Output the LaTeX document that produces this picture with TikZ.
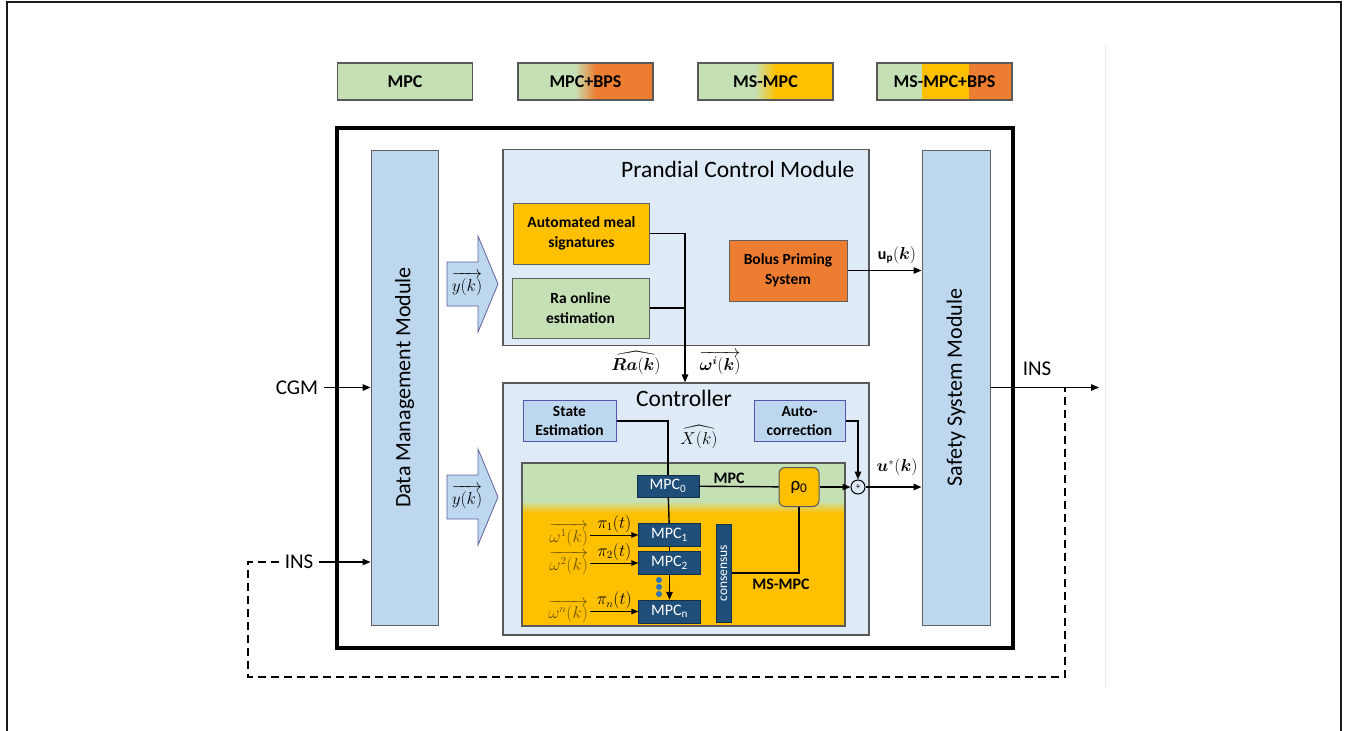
\documentclass[tikz,border=0pt]{standalone}
\usepackage{amsmath,amssymb,bm}
\usepackage{fontspec}
\setmainfont{Carlito}
\usepackage{tikz}
\usetikzlibrary{positioning,arrows.meta,calc}

\definecolor{modblue}{HTML}{BDD7EE}
\definecolor{panelblue}{HTML}{DEEBF7}
\definecolor{mpcgreen}{HTML}{C5E0B4}
\definecolor{msyellow}{HTML}{FFC000}
\definecolor{bpsorange}{HTML}{ED7D31}
\definecolor{navy}{HTML}{1F4E79}
\definecolor{edgegray}{HTML}{595959}
\definecolor{omegabrown}{HTML}{6E5200}
\definecolor{dotblue}{HTML}{2E75B6}

\begin{document}
\begin{tikzpicture}[x=1pt, y=-1pt,
  module/.style={draw=gray!75!black, fill=modblue, line width=1pt, inner sep=0pt,
                 font=\fontsize{22}{26}\selectfont},
  panel/.style={draw=edgegray, fill=panelblue, line width=1.2pt, inner sep=0pt},
  title/.style={font=\fontsize{23.5}{28}\selectfont},
  box/.style={draw=gray!75!black, line width=1pt, align=center, inner sep=0pt,
              font=\bfseries\fontsize{15.5}{19.5}\selectfont},
  lightbox/.style={box, draw=blue!35!gray, fill=modblue, minimum height=41pt},
  legend/.style={draw=edgegray, line width=1.2pt, minimum width=135pt,
                 minimum height=37pt, font=\bfseries\fontsize{18}{20}\selectfont},
  mpcbox/.style={draw=navy!60!black, fill=navy, text=white, minimum width=62pt,
                 inner sep=0pt, font=\fontsize{16}{18}\selectfont},
  blockarr/.style={draw=blue!25!gray, fill=modblue, line width=0.8pt},
  arr/.style={-{Stealth[length=8pt, width=6.5pt, inset=0pt]}, line width=1.4pt},
  thinarr/.style={-{Stealth[length=7pt, width=5.5pt, inset=0pt]}, line width=1pt},
  wire/.style={line width=1.4pt},
  port/.style={font=\fontsize{21}{24}\selectfont, inner sep=6pt},
  sig/.style={font=\fontsize{16}{18}\selectfont, inner sep=0pt},
  tag/.style={font=\bfseries\fontsize{16}{18}\selectfont}
]
  \useasboundingbox (0,0) rectangle (1345,731);

  % page frame
  \draw[line width=2pt, gray!20!black] (7,731) -- (7,2) -- (1341,2) -- (1341,731);
  \draw[gray!15] (1105,43) -- (1105,688);

  % Legend: colour key of the four schemes
  \fill[mpcgreen] (338,63) rectangle (472,100);
  \fill[mpcgreen] (518,63) rectangle (575,100);
  \shade[left color=mpcgreen, right color=bpsorange] (575,63) rectangle (596,100);
  \fill[bpsorange] (596,63) rectangle (653,100);
  \fill[mpcgreen] (698,63) rectangle (755,100);
  \shade[left color=mpcgreen, right color=msyellow] (755,63) rectangle (776,100);
  \fill[msyellow] (776,63) rectangle (833,100);
  \fill[mpcgreen] (877,63) rectangle (922,100);
  \fill[msyellow] (922,63) rectangle (969,100);
  \fill[bpsorange] (969,63) rectangle (1012,100);
  \node[legend] (lgMpc) at (405,81.5) {MPC};
  \node[legend] (lgBps) at (585.5,81.5) {MPC+BPS};
  \node[legend] (lgMs) at (765.5,81.5) {MS-MPC};
  \node[legend] (lgMsBps) at (944.5,81.5) {MS-MPC+BPS};

  % Outer system boundary
  \draw[line width=3.5pt] (337,128) rectangle (1013,648);

  % Side modules
  \node[module, minimum width=67pt, minimum height=475pt] (dmm) at (404.5,387.5)
    {\rotatebox{90}{Data Management Module}};
  \node[module, minimum width=68pt, minimum height=475pt] (ssm) at (956,387.5)
    {\rotatebox{90}{Safety System Module}};

  % Prandial control module
  \node[panel, minimum width=366pt, minimum height=196pt] (pcm) at (686,247.5) {};
  \node[title, anchor=east] (pcmTitle) at (858,169) {Prandial Control Module};
  \node[box, fill=msyellow, minimum width=136pt, minimum height=61pt] (ams) at (581.5,233.5)
    {Automated meal\\signatures};
  \node[box, fill=mpcgreen, minimum width=137pt, minimum height=60pt] (ra) at (580.5,308)
    {Ra online\\estimation};
  \node[box, fill=bpsorange, minimum width=118pt, minimum height=61pt] (bps) at (788,270.5)
    {Bolus Priming\\System};

  % Controller
  \node[panel, minimum width=366pt, minimum height=252pt] (ctrl) at (686,509) {};
  \node[title] (ctrlTitle) at (684,398) {Controller};
  \node[lightbox, minimum width=93pt] (se) at (569.5,421) {State\\Estimation};
  \node[lightbox, minimum width=91pt] (auto) at (799.5,421) {Auto-\\correction};

  % MPC / MS-MPC core, green on top fading into yellow
  \fill[mpcgreen] (522,463) rectangle (845,501);
  \shade[top color=mpcgreen, bottom color=msyellow] (522,501) rectangle (845,513);
  \fill[msyellow] (522,513) rectangle (845,626);
  \node[draw=edgegray, line width=1.2pt, minimum width=323pt, minimum height=163pt,
        inner sep=0pt] (core) at (683.5,544.5) {};

  \node[mpcbox, minimum height=22pt] (mpc0) at (668,486) {MPC\textsubscript{0}};
  \node[mpcbox, minimum height=23pt] (mpc1) at (669.5,535) {MPC\textsubscript{1}};
  \node[mpcbox, minimum height=23pt] (mpc2) at (669.5,563) {MPC\textsubscript{2}};
  \node[mpcbox, minimum height=23pt] (mpcn) at (669.5,611.5) {MPC\textsubscript{n}};
  \node[mpcbox, minimum width=15pt, minimum height=98pt, font=\fontsize{13.5}{15}\selectfont]
    (cons) at (724,573) {\rotatebox{90}{consensus}};
  \node[draw=edgegray, fill=msyellow, line width=1pt, rounded corners=6pt,
        minimum width=40pt, minimum height=39pt, font=\fontsize{19}{20}\selectfont]
    (rho) at (799,487) {ρ\textsubscript{0}};
  \node[circle, draw, line width=1pt, fill=panelblue, minimum size=14pt, inner sep=0pt,
        font=\fontsize{9}{9}\selectfont] (sum) at (858,487) {+};
  \foreach \yy in {580,587,594}
    \fill[dotblue] (659,\yy) circle (3);

  \node[tag] (mpcTag) at (729,478) {MPC};
  \node[tag] (msTag) at (781,584) {MS-MPC};

  % Scenario inputs of the multi-stage controllers
  \foreach \m/\s in {mpc1/1,mpc2/2,mpcn/n}{
    \node[sig, text=omegabrown, anchor=east] (om\s) at ([xshift=-50pt]\m.west)
      {$\overrightarrow{\omega^{\s}(k)}$};
    \draw[thinarr] ([xshift=2pt]om\s.east) -- node[above, sig, inner sep=2pt] {$\pi_{\s}(t)$} (\m);
  }

  % Block arrows carrying the measurements
  \draw[blockarr] (447,262) -- (478,262) -- (478,236) -- (498,284) -- (478,332)
    -- (478,306) -- (447,306) -- cycle;
  \node[sig, font=\fontsize{18}{20}\selectfont] (yPcm) at (467,284) {$\overrightarrow{y(k)}$};
  \draw[blockarr] (447,475) -- (478,475) -- (478,449) -- (498,497) -- (478,545)
    -- (478,519) -- (447,519) -- cycle;
  \node[sig, font=\fontsize{18}{20}\selectfont] (yCtrl) at (467,497) {$\overrightarrow{y(k)}$};

  % Signal labels
  \node[sig] (raLbl) at (636,363) {$\widehat{\bm{Ra}(\bm{k})}$};
  \node[sig] (omLbl) at (720,363) {$\overrightarrow{\bm{\omega}^{\bm{i}}(\bm{k})}$};
  \node[sig] (xLbl) at (699,437) {$\widehat{X(k)}$};
  \node[sig] (upLbl) at (897,255) {$\mathbf{u}_{\mathbf{p}}(\bm{k})$};
  \node[sig] (usLbl) at (897,467) {$\bm{u}^{*}(\bm{k})$};

  % Inputs and outputs
  \node[port] (cgm) at (297,387.5) {CGM};
  \node[port] (insIn) at (299,562) {INS};
  \node[port] (insLbl) at (1037,369) {INS};
  \coordinate (insOut) at (1099,387.5);
  \coordinate (tap) at (1065,387.5);

  % Connections
  \draw[arr] (cgm.east) -- (cgm -| dmm.west);
  \draw[arr] (insIn.east) -- (insIn -| dmm.west);
  \draw[arr] (ssm.east) -- (insOut);
  \draw[dashed, dash pattern=on 8pt off 5pt, line width=1.3pt]
    (insIn.west) -| (248,677) -| (tap);

  \draw[arr] (ams.east) -| (ctrl.north -| 685,0);
  \draw[wire] (ra.east) -- (ra.east -| 685,0);
  \draw[arr] (bps.east) -- (bps.east -| ssm.west);

  \draw[wire] (se.east) -| (mpc0.north);
  \draw[wire] (mpc0) -- (rho);
  \draw[arr] (rho) -- (sum);
  \draw[arr] (auto.east) -| (sum.north);
  \draw[arr] (sum) -- (sum -| ssm.west);
  \draw[wire] (mpc0) -- (mpc1);
  \draw[wire] (mpc1) -- (mpc2);
  \draw[arr] (mpc2) -- (mpcn);
  \draw[wire] (cons.east) -| (rho.south);
\end{tikzpicture}
\end{document}
